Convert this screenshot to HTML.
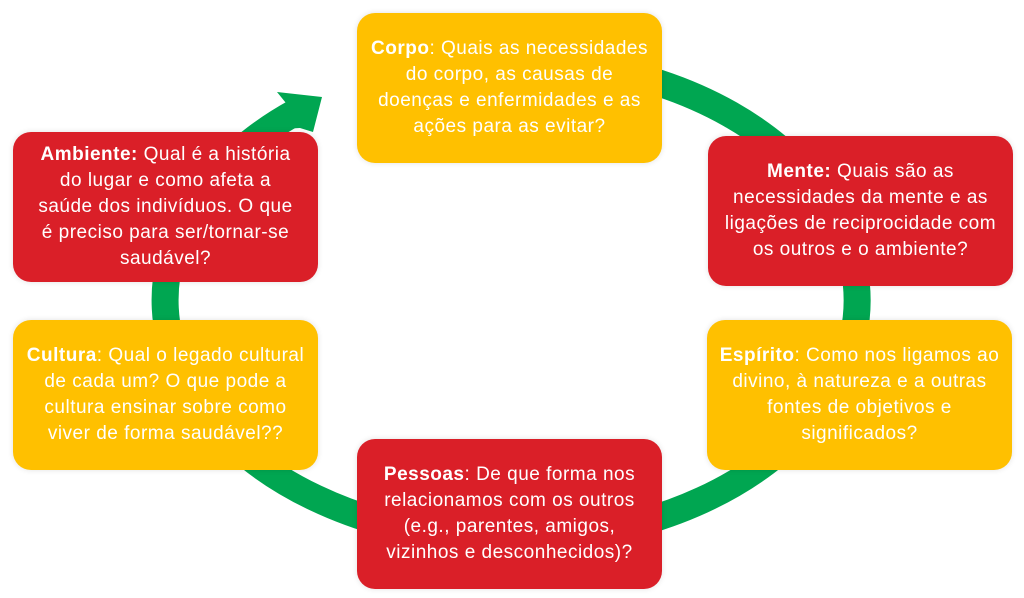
<!DOCTYPE html>
<html><head><meta charset="utf-8"><style>
body{margin:0;width:1024px;height:598px;background:#fff;position:relative;overflow:hidden;font-family:"Liberation Sans",sans-serif}
.b{position:absolute;width:305px;height:150px;border-radius:18px;display:flex;align-items:center;justify-content:center;text-align:center;color:#fff;font-size:19px;letter-spacing:0.5px;line-height:26px;box-sizing:border-box;padding:0 2px;white-space:nowrap;box-shadow:0 0 6px rgba(0,0,0,0.12)}
.y{background:#FFC000}.r{background:#DA1F28}
</style></head><body>
<svg width="1024" height="598" style="position:absolute;left:0;top:0">
<path d="M512 60 A346 240 0 1 1 296 112" fill="none" stroke="#00A651" stroke-width="27"/>
<polygon points="322,97 277,92 290,108 248,131 300,128 313,132" fill="#00A651"/>
</svg>
<div class="b y" style="left:357px;top:13px"><div><b>Corpo</b>: Quais as necessidades<br>do corpo, as causas de<br>doenças e enfermidades e as<br>ações para as evitar?</div></div>
<div class="b r" style="left:708px;top:136px"><div><b>Mente:</b> Quais são as<br>necessidades da mente e as<br>ligações de reciprocidade com<br>os outros e o ambiente?</div></div>
<div class="b y" style="left:707px;top:320px"><div><b>Espírito</b>: Como nos ligamos ao<br>divino, à natureza e a outras<br>fontes de objetivos e<br>significados?</div></div>
<div class="b r" style="left:357px;top:439px"><div><b>Pessoas</b>: De que forma nos<br>relacionamos com os outros<br>(e.g., parentes, amigos,<br>vizinhos e desconhecidos)?</div></div>
<div class="b y" style="left:13px;top:320px"><div><b>Cultura</b>: Qual o legado cultural<br>de cada um? O que pode a<br>cultura ensinar sobre como<br>viver de forma saudável??</div></div>
<div class="b r" style="left:13px;top:132px"><div><b>Ambiente:</b> Qual é a história<br>do lugar e como afeta a<br>saúde dos indivíduos. O que<br>é preciso para ser/tornar-se<br>saudável?</div></div>
</body></html>
